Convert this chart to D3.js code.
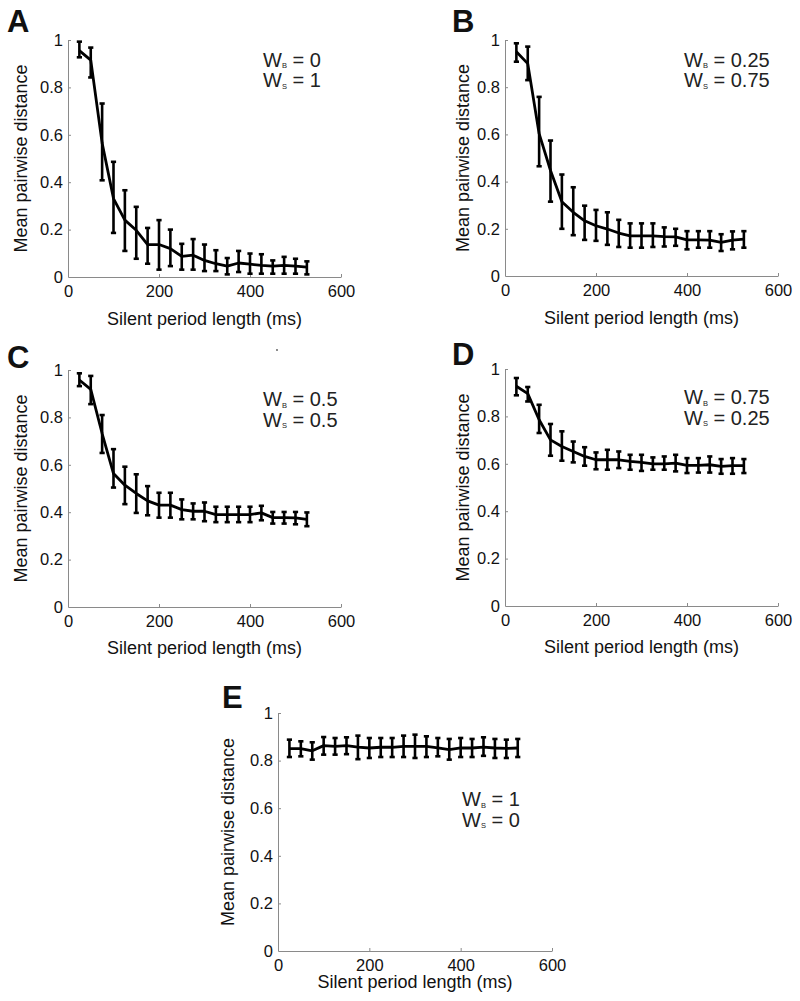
<!DOCTYPE html>
<html><head><meta charset="utf-8">
<script src="https://cdn.jsdelivr.net/npm/d3@7/dist/d3.min.js"></script>
<style>body{margin:0;background:#fff}svg{display:block}text{font-family:"Liberation Sans",Arial,sans-serif}</style>
</head><body>
<svg id="c" width="800" height="1001"></svg>
<script>
const silentPeriod = [25,50,75,100,125,150,175,200,225,250,275,300,325,350,375,400,425,450,475,500,525];
const xTicks = [0,200,400,600];
const yTicks = [0,0.2,0.4,0.6,0.8,1];
const yTickLabels = ["0","0.2","0.4","0.6","0.8","1"];

const meanA = [0.955,0.915,0.565,0.331,0.24,0.197,0.137,0.137,0.12,0.087,0.092,0.07,0.056,0.046,0.059,0.054,0.049,0.046,0.049,0.046,0.042];
const upA   = [0.993,0.968,0.732,0.486,0.366,0.296,0.207,0.24,0.2,0.14,0.16,0.137,0.113,0.08,0.11,0.099,0.096,0.07,0.085,0.077,0.066];
const loA   = [0.927,0.842,0.408,0.186,0.11,0.077,0.056,0.031,0.046,0.031,0.031,0.025,0.025,0.011,0.021,0.014,0.014,0.014,0.014,0.014,0.011];

const meanB = [0.95,0.9,0.603,0.447,0.315,0.27,0.234,0.213,0.199,0.182,0.17,0.17,0.17,0.167,0.166,0.153,0.153,0.152,0.142,0.152,0.156];
const upB   = [0.986,0.972,0.759,0.574,0.43,0.376,0.298,0.28,0.27,0.238,0.223,0.223,0.223,0.206,0.2,0.19,0.19,0.19,0.177,0.189,0.19];
const loB   = [0.908,0.83,0.465,0.315,0.2,0.173,0.153,0.149,0.132,0.123,0.12,0.12,0.123,0.125,0.128,0.113,0.12,0.12,0.106,0.113,0.12];

const meanC = [0.958,0.918,0.732,0.563,0.514,0.479,0.448,0.43,0.43,0.411,0.404,0.404,0.39,0.39,0.39,0.39,0.397,0.377,0.377,0.376,0.37];
const upC   = [0.986,0.975,0.81,0.666,0.592,0.56,0.51,0.482,0.482,0.454,0.437,0.441,0.423,0.423,0.423,0.423,0.427,0.401,0.401,0.401,0.399];
const loC   = [0.932,0.856,0.65,0.504,0.434,0.397,0.387,0.377,0.377,0.37,0.37,0.362,0.358,0.358,0.358,0.358,0.366,0.352,0.352,0.349,0.341];

const meanD = [0.927,0.896,0.786,0.701,0.673,0.652,0.631,0.617,0.617,0.617,0.61,0.606,0.6,0.6,0.603,0.593,0.593,0.596,0.589,0.592,0.592];
const upD   = [0.962,0.924,0.849,0.768,0.737,0.694,0.67,0.648,0.659,0.652,0.638,0.638,0.627,0.631,0.638,0.624,0.624,0.631,0.62,0.624,0.62];
const loD   = [0.889,0.863,0.73,0.634,0.613,0.606,0.592,0.577,0.575,0.582,0.575,0.57,0.575,0.575,0.568,0.561,0.563,0.563,0.558,0.558,0.561];

const meanE = [0.85,0.85,0.841,0.863,0.86,0.863,0.857,0.853,0.856,0.856,0.86,0.86,0.86,0.853,0.846,0.853,0.853,0.857,0.853,0.851,0.853];
const upE   = [0.888,0.881,0.877,0.899,0.895,0.898,0.905,0.895,0.895,0.895,0.905,0.909,0.902,0.895,0.891,0.895,0.891,0.898,0.891,0.888,0.891];
const loE   = [0.815,0.818,0.804,0.825,0.825,0.827,0.806,0.811,0.815,0.815,0.815,0.811,0.815,0.818,0.804,0.815,0.815,0.82,0.811,0.811,0.815];

const panelLetters = ["A","B","C","D","E"];
const weightB = ["0","0.25","0.5","0.75","1"];
const weightS = ["1","0.75","0.5","0.25","0"];
const xTitle = "Silent period length (ms)";
const yTitle = "Mean pairwise distance";

const series = [[meanA,upA,loA],[meanB,upB,loB],[meanC,upC,loC],[meanD,upD,loD],[meanE,upE,loE]];

// layout
const layout = [
  {l:68, r:341, t:40, b:277, ylx:21, annX:263, annY:66.5, letX:7, letY:32, xtY:325},
  {l:505, r:778, t:40, b:276, ylx:463, annX:684, annY:66.5, letX:452, letY:32, xtY:324},
  {l:68, r:341, t:370, b:607, ylx:21, annX:263, annY:406, letX:7, letY:368, xtY:654},
  {l:505, r:778, t:369, b:606, ylx:463, annX:684, annY:404, letX:452, letY:365, xtY:653},
  {l:278, r:552, t:713, b:951, ylx:228, annX:462, annY:806, letX:222, letY:708, xtY:988}
];

const svg = d3.select("#c");
const axisColor = "#8a8a8a";

layout.forEach((L, i) => {
  const [mean, up, lo] = series[i];
  const x = d3.scaleLinear().domain([0,600]).range([L.l, L.r]);
  const y = d3.scaleLinear().domain([0,1]).range([L.b, L.t]);
  const g = svg.append("g");

  const xa = g.append("g").attr("transform", `translate(0,${L.b})`)
    .call(d3.axisBottom(x).tickValues(xTicks).tickFormat(d3.format("d")).tickSizeInner(-3).tickSizeOuter(0).tickPadding(8));
  const ya = g.append("g").attr("transform", `translate(${L.l},0)`)
    .call(d3.axisLeft(y).tickValues(yTicks).tickFormat((d,j)=>yTickLabels[j]).tickSizeInner(-3).tickSizeOuter(0).tickPadding(5));
  [xa, ya].forEach(a => {
    a.select(".domain").attr("stroke", axisColor).attr("stroke-width", 1);
    a.selectAll(".tick line").attr("stroke", axisColor);
    a.selectAll(".tick text").attr("fill", "#111").style("font-size", "16.5px")
      .style("font-family", '"Liberation Sans", Arial, sans-serif');
  });
  xa.selectAll(".tick text").attr("dy", "0.72em");
  xa.selectAll(".tick").filter(d => d === 0).select("line").remove();
  ya.selectAll(".tick").filter(d => d === 0).select("line").remove();

  // error bars
  const cap = 2.6;
  const eb = g.append("g").attr("stroke", "#000").attr("stroke-width", 2.6).attr("fill", "none");
  silentPeriod.forEach((sp, j) => {
    const cx = x(sp);
    eb.append("line").attr("x1", cx).attr("x2", cx).attr("y1", y(up[j])).attr("y2", y(lo[j]));
    eb.append("line").attr("x1", cx-cap).attr("x2", cx+cap).attr("y1", y(up[j])).attr("y2", y(up[j]));
    eb.append("line").attr("x1", cx-cap).attr("x2", cx+cap).attr("y1", y(lo[j])).attr("y2", y(lo[j]));
  });

  // mean line
  const line = d3.line().x((d,j)=>x(silentPeriod[j])).y(d=>y(d));
  g.append("path").datum(mean).attr("d", line).attr("fill","none").attr("stroke","#000")
    .attr("stroke-width", 2.8).attr("stroke-linejoin","round");

  // axis titles
  g.append("text").attr("x", (L.l+L.r)/2).attr("y", L.xtY).attr("text-anchor","middle")
    .style("font-size","18px").attr("fill","#111").text(xTitle);
  g.append("text").attr("transform", `translate(${L.ylx},${(L.t+L.b)/2}) rotate(-90)`)
    .attr("text-anchor","middle").attr("dy","0.35em").style("font-size","18px").attr("fill","#111").text(yTitle);

  // panel letter
  g.append("text").attr("x", L.letX).attr("y", L.letY).style("font-size","31px").style("font-weight","bold")
    .attr("fill","#111").text(panelLetters[i]);

  // annotation
  const ann = [["B", weightB[i]], ["S", weightS[i]]];
  ann.forEach((a, k) => {
    const t = g.append("text").attr("x", L.annX).attr("y", L.annY + k*20.5).style("font-size","20px").attr("fill","#222");
    t.append("tspan").text("W");
    t.append("tspan").attr("dy", 1.5).style("font-size","7.5px").text(a[0]);
    t.append("tspan").attr("dy", -1.5).text(" = " + a[1]);
  });
});

// small speck in panel C area
svg.append("circle").attr("cx", 277).attr("cy", 350).attr("r", 0.9).attr("fill", "#555");
</script>
</body></html>
